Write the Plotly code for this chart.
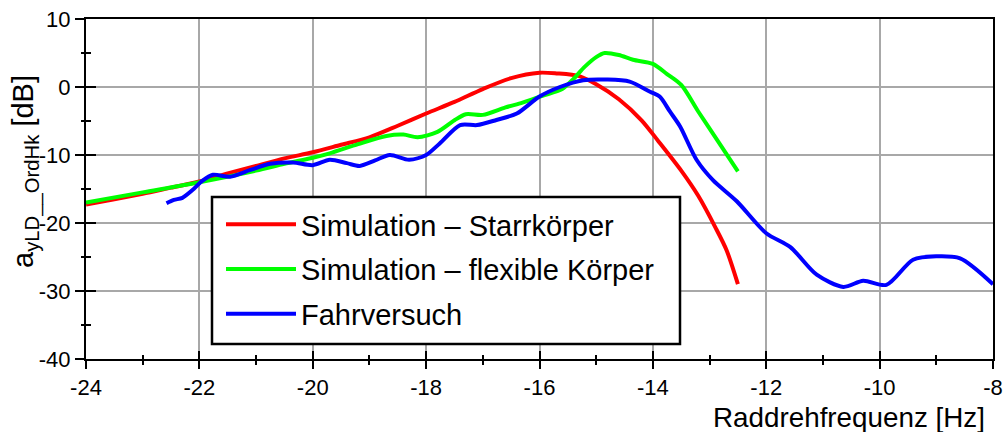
import plotly.graph_objects as go

# ---------------- data ----------------
f_starr = [-24, -23.5, -23, -22.5, -22, -21.5, -21, -20.5, -20, -19.5, -19, -18.5, -18,
           -17.5, -17, -16.5, -16, -15.7, -15.3, -15, -14.6, -14.2, -13.9, -13.5, -13.2,
           -12.9, -12.7, -12.5]
v_starr = [-17.3, -16.5, -15.7, -14.8, -13.9, -12.7, -11.6, -10.5, -9.6, -8.5, -7.4, -5.7, -3.9,
           -2.2, -0.3, 1.3, 2.1, 2.0, 1.6, 0.4, -1.8, -4.9, -8.0, -12.3, -16.0,
           -20.6, -24.0, -29.0]

f_flex = [-24, -23, -22, -21, -20.5, -20, -19.7, -19.2, -18.7, -18.4, -18.15, -17.8, -17.5,
          -17.3, -17.0, -16.6, -16.3, -15.95, -15.6, -15.4, -15.2, -15.0, -14.85, -14.6,
          -14.35, -14.0, -13.75, -13.5, -13.2, -12.85, -12.5]
v_flex = [-17.0, -15.5, -14.0, -12.3, -11.3, -10.4, -9.75, -8.4, -7.2, -7.0, -7.4, -6.6, -4.9,
          -4.0, -4.1, -3.0, -2.3, -1.3, -0.3, 1.2, 3.0, 4.4, 5.0, 4.7,
          4.0, 3.4, 1.9, 0.3, -3.6, -8.0, -12.4]

f_fahr = [-22.58, -22.45, -22.3, -22.1, -21.95, -21.76, -21.46, -21.1, -20.75, -20.35, -20.0,
          -19.7, -19.4, -19.17, -18.9, -18.64, -18.3, -18.0, -17.76, -17.4, -17.1, -16.76,
          -16.4, -16.0, -15.64, -15.23, -14.82, -14.41, -14.05, -13.88, -13.7, -13.52,
          -13.23, -12.94, -12.52, -12.0, -11.58, -11.11, -10.64, -10.29, -9.88, -9.41,
          -9.0, -8.58, -8.0]
v_fahr = [-17.1, -16.6, -16.3, -15.0, -13.8, -12.9, -13.2, -12.2, -11.3, -11.1, -11.5,
          -10.7, -11.2, -11.6, -10.8, -10.0, -10.7, -10.0, -8.3, -5.6, -5.6, -4.85,
          -3.9, -1.4, 0.0, 1.0, 1.1, 0.8, -0.7, -1.4, -3.6, -5.8,
          -10.7, -13.7, -16.8, -21.5, -23.5, -27.6, -29.4, -28.5, -29.1, -25.4,
          -24.9, -25.2, -29.0]

series_names = ["Simulation – Starrkörper", "Simulation – flexible Körper", "Fahrversuch"]
series_colors = ["#ff0000", "#00ff00", "#0000ff"]

x_tickvals = [-24, -22, -20, -18, -16, -14, -12, -10, -8]
x_ticktext = ["-24", "-22", "-20", "-18", "-16", "-14", "-12", "-10", "-8"]
y_tickvals = [10, 0, -10, -20, -30, -40]
y_ticktext = ["10", "0", "-10", "-20", "-30", "-40"]

x_title = "Raddrehfrequenz [Hz]"
y_title = "a<sub>yLD__OrdHk</sub> [dB]"

FONT = "Liberation Sans, Arial, sans-serif"

# plot area in pixels (1006 x 432 figure)
L, R, T, B = 86, 993, 19, 359
W, H = R - L, B - T


def px_x(p):
    return (p - L) / W


def px_y(p):
    return (B - p) / H


fig = go.Figure()
for i, (fx, fy) in enumerate([(f_starr, v_starr), (f_flex, v_flex), (f_fahr, v_fahr)]):
    fig.add_trace(go.Scatter(
        x=fx, y=fy, mode="lines", name=series_names[i],
        legendgroup=f"g{i}",
        line=dict(color=series_colors[i], width=4, shape="spline", smoothing=0.8),
    ))

# dummy trace for the overlay axes (inside half of the crossing ticks)
fig.add_trace(go.Scatter(x=[], y=[], xaxis="x2", yaxis="y2", showlegend=False,
                         hoverinfo="skip"))

fig.update_layout(
    width=1006, height=432, autosize=False,
    margin=dict(l=L, r=1006 - R, t=T, b=432 - B, pad=0, autoexpand=False),
    paper_bgcolor="white", plot_bgcolor="white",
    font=dict(family=FONT, size=22, color="black"),
    showlegend=True,
    legend=dict(
        x=px_x(221), y=px_y(199), xanchor="left", yanchor="top",
        bgcolor="rgba(0,0,0,0)", borderwidth=0,
        font=dict(family=FONT, size=29, color="black"),
        itemwidth=70, tracegroupgap=4,
    ),
    xaxis=dict(
        range=[-24, -8], tickvals=x_tickvals, ticktext=x_ticktext,
        ticks="outside", ticklen=8, tickwidth=2, tickcolor="black",
        minor=dict(dtick=1, ticks="outside", ticklen=4, tickwidth=2, tickcolor="black",
                   showgrid=False),
        showgrid=True, gridcolor="#a8a8a8", gridwidth=1.5,
        showline=True, linecolor="black", linewidth=2, mirror=True,
        zeroline=False, tickfont=dict(size=22), automargin=False,
        ticklabeloverflow="allow",
    ),
    yaxis=dict(
        range=[-40, 10], tickvals=y_tickvals, ticktext=y_ticktext,
        ticks="outside", ticklen=9, tickwidth=2, tickcolor="black",
        minor=dict(dtick=5, ticks="outside", ticklen=3, tickwidth=2, tickcolor="black",
                   showgrid=False),
        showgrid=True, gridcolor="#a8a8a8", gridwidth=1.5,
        showline=True, linecolor="black", linewidth=2, mirror=True,
        zeroline=False, tickfont=dict(size=22), automargin=False,
        ticklabeloverflow="allow",
    ),
    xaxis2=dict(
        overlaying="x", matches="x", anchor="y", side="bottom",
        tickvals=x_tickvals, showticklabels=False, automargin=False,
        ticks="inside", ticklen=8, tickwidth=2, tickcolor="black",
        minor=dict(dtick=1, ticks="inside", ticklen=4, tickwidth=2, tickcolor="black"),
        showgrid=False, showline=False, zeroline=False,
    ),
    yaxis2=dict(
        overlaying="y", matches="y", anchor="x", side="left",
        tickvals=y_tickvals, showticklabels=False, automargin=False,
        ticks="inside", ticklen=10, tickwidth=2, tickcolor="black",
        minor=dict(dtick=5, ticks="inside", ticklen=5, tickwidth=2, tickcolor="black"),
        showgrid=False, showline=False, zeroline=False,
    ),
    shapes=[
        dict(type="rect", xref="paper", yref="paper", layer="above",
             x0=px_x(212), x1=px_x(680), y0=px_y(344), y1=px_y(197),
             line=dict(color="black", width=2.5), fillcolor="white"),
    ],
    annotations=[
        dict(text=x_title, xref="paper", yref="paper",
             x=px_x(849), y=px_y(417), xanchor="center", yanchor="middle",
             showarrow=False, font=dict(family=FONT, size=27.8, color="black")),
        dict(text=y_title, xref="paper", yref="paper",
             x=px_x(26), y=px_y(172), xanchor="center", yanchor="middle",
             textangle=-90, showarrow=False, font=dict(family=FONT, size=29, color="black")),
    ],
)

fig.write_html("out.html",
               config={"displayModeBar": False},
               post_script="document.body.style.margin='0px';document.body.style.overflow='hidden';")
